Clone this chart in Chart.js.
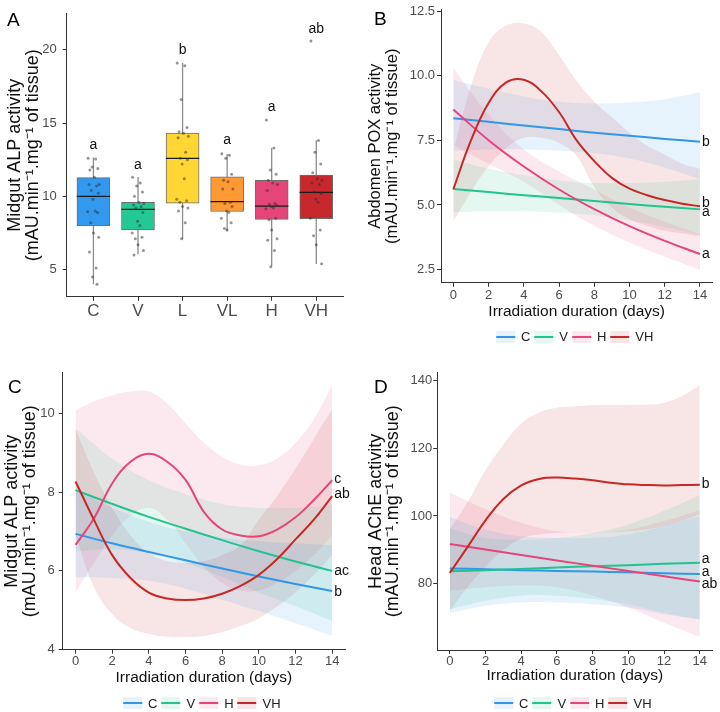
<!DOCTYPE html>
<html>
<head>
<meta charset="UTF-8"/>
<script src="https://cdn.jsdelivr.net/npm/chart.js"></script>
<style>
body{margin:0;background:#fff;}
#wrap{position:relative;width:720px;height:712px;font-family:'Liberation Sans',Arial,sans-serif;}
#wrap canvas{position:absolute;}
.legend{position:absolute;display:flex;align-items:center;transform:translateX(-50%);font-size:13px;color:#222;white-space:nowrap;}
.item{display:flex;align-items:center;margin-right:4px;}
.key{width:19px;height:12px;position:relative;margin-right:6px;}
.key i{position:absolute;left:0;right:0;top:5px;height:2px;}
</style>
</head>
<body>
<div id="wrap">
  <canvas id="cA" width="360" height="356" style="left:0;top:0"></canvas>
  <canvas id="cB" width="360" height="356" style="left:360px;top:0"></canvas>
  <canvas id="cC" width="360" height="356" style="left:0;top:356px"></canvas>
  <canvas id="cD" width="360" height="356" style="left:360px;top:356px"></canvas>
</div>
<script>
// ---- panel A : midgut ALP, boxplots ----
const groupsA = ['C','V','L','VL','H','VH'];
const colorsA = ['#3399EE','#22C995','#FFD633','#FF9933','#E6457A','#C8282C'];
const whiskLoA = [4.0, 6.04, 7.09, 7.64, 5.22, 5.38];
const q1A = [7.98, 7.71, 9.53, 8.96, 8.42, 8.47];
const medA = [10.0, 9.11, 12.58, 9.64, 9.33, 10.27];
const q3A = [11.27, 9.58, 14.31, 11.33, 11.09, 11.44];
const whiskHiA = [12.64, 11.31, 19.09, 12.89, 13.31, 13.82];
const pointsA = [
  [12.6,12.55,12.0,11.9,11.8,11.3,10.8,10.8,10.7,10.4,10.2,9.8,9.0,8.95,8.9,8.2,7.5,7.2,6.2,5.1,4.5,4.0],
  [11.3,10.9,10.7,10.3,10.0,9.6,9.5,9.4,9.3,9.2,8.9,8.3,8.0,7.5,7.2,7.1,6.7,6.3,6.0],
  [19.1,18.9,16.6,14.7,14.4,14.3,14.1,14.0,13.0,12.6,12.5,12.2,11.2,9.8,9.7,9.6,9.3,9.2,9.0,8.2,7.1],
  [12.9,12.8,12.6,11.5,11.1,11.0,10.5,10.5,9.6,9.5,9.3,9.0,8.9,8.5,8.2,7.8,7.7],
  [15.2,13.3,11.8,11.5,11.1,10.9,10.8,10.4,9.5,9.45,9.4,9.3,9.2,9.15,8.5,8.4,7.7,7.1,7.0,6.3,5.2],
  [20.6,13.8,13.0,12.2,11.6,11.2,11.1,10.9,10.8,10.3,10.2,9.8,9.6,8.5,7.7,7.3,6.7,5.4]
];
const lettersA = ['a','a','b','a','a','ab'];
const letterYA = [13.5, 12.15, 20.0, 13.8, 16.05, 21.42];
const ticksA = [5, 10, 15, 20];

// ---- shared for B, C, D ----
const lineGroups = ['C','V','H','VH'];
const lineColors = ['#3396E8','#22C38F','#E6457A','#C62828'];
const bandColors = ['rgba(51,150,232,0.12)','rgba(34,195,143,0.12)','rgba(230,69,122,0.12)','rgba(198,40,40,0.12)'];
const days2 = [0,2,4,6,8,10,12,14];
const days1 = [0,1,2,3,4,5,6,7,8,9,10,11,12,13,14];
const dayTicks = [0,2,4,6,8,10,12,14];

// ---- panel B : abdomen POX ----
const bC = [8.36,8.22,8.08,7.94,7.80,7.68,7.56,7.45];
const bCLo = [7.1,7.15,7.15,7.1,7.0,6.8,6.45,6.0];
const bCHi = [9.84,9.5,9.2,9.0,8.93,8.97,9.1,9.37];
const bV = [5.62,5.5,5.38,5.27,5.15,5.04,4.93,4.83];
const bVLo = [4.72,4.76,4.76,4.7,4.6,4.4,4.15,3.85];
const bVHi = [6.77,6.4,6.15,5.95,5.85,5.85,5.9,6.0];
const bH = [8.7,7.51,6.49,5.6,4.84,4.18,3.61,3.1];
const bHLo = [7.3,6.6,5.9,5.0,4.2,3.55,3.0,2.48];
const bHHi = [10.32,8.5,7.15,6.3,5.6,4.9,4.35,3.86];
const bVH = [5.61,7.5,8.95,9.75,9.85,9.4,8.6,7.5,6.7,6.05,5.63,5.38,5.19,5.05,4.95];
const bVHLo = [4.36,5.5,6.5,7.2,7.6,7.6,7.4,6.9,5.7,4.9,4.45,4.2,4.0,3.9,3.8];
const bVHHi = [7.1,9.6,11.3,11.95,12.03,11.7,10.8,9.8,9.0,8.4,7.8,7.3,6.95,6.6,6.4];
const lettersB = ['b','a','a','b'];
const letterYB = [7.45, 4.72, 3.1, 5.06];
const ticksB = [2.5, 5, 7.5, 10, 12.5];

// ---- panel C : midgut ALP over time ----
const cC = [6.94,6.7,6.48,6.27,6.06,5.86,5.67,5.49];
const cCLo = [5.84,5.82,5.75,5.55,5.27,4.98,4.67,4.35];
const cCHi = [8.05,7.6,7.25,7.0,6.85,6.75,6.7,6.65];
const cV = [8.05,7.7,7.37,7.07,6.78,6.5,6.24,6.0];
const cVLo = [6.5,6.55,6.45,6.2,5.85,5.45,5.1,4.73];
const cVHi = [9.62,8.85,8.3,7.95,7.7,7.6,7.6,7.65];
const cH = [6.66,7.33,8.22,8.77,8.97,8.77,8.31,7.5,7.05,6.9,6.88,7.05,7.36,7.8,8.3];
const cHLo = [5.45,6.2,6.9,7.4,7.6,7.3,6.7,6.1,5.7,5.5,5.5,5.7,6.0,6.4,6.9];
const cHHi = [10.08,10.3,10.45,10.55,10.55,10.25,9.75,9.25,8.9,8.7,8.68,8.85,9.25,9.85,10.71];
const cVH = [8.27,7.3,6.4,5.82,5.45,5.3,5.26,5.3,5.42,5.62,5.9,6.3,6.8,7.3,7.9];
const cVHLo = [6.9,5.6,4.9,4.55,4.4,4.33,4.32,4.35,4.45,4.6,4.8,5.1,5.45,5.9,6.4];
const cVHHi = [9.6,8.5,7.6,6.9,6.45,6.25,6.2,6.25,6.4,6.65,7.3,7.9,8.6,9.35,10.1];
const lettersC = ['b','ac','c','ab'];
const letterYC = [5.47, 6.0, 8.32, 7.94];
const ticksC = [4, 6, 8, 10];

// ---- panel D : head AChE ----
const dC = [84.5,84.3,84.0,83.8,83.6,83.4,83.1,82.9];
const dCLo = [71.5,73.5,74.5,74.5,74,73,71,69.5];
const dCHi = [99.7,96,94,93.5,93.5,94.5,97,100];
const dV = [83.7,84.0,84.4,84.8,85.2,85.5,85.9,86.2];
const dVLo = [72.5,75,76.5,76.5,75.5,74,71.5,69.5];
const dVHi = [96.3,93.5,93,93.5,95,97.5,101.5,106.1];
const dH = [91.7,90.1,88.5,86.9,85.3,83.8,82.2,80.7];
const dHLo = [78,79,79.5,79,76.5,73,68.5,64.3];
const dHHi = [107,102,98,95.5,95,96,98.5,101.7];
const dVH = [83.2,90.9,98.7,105.0,109.0,110.9,111.3,111.0,110.5,109.8,109.3,109.1,109.0,109.1,109.2];
const dVHLo = [72,79,85,90,93.3,94.5,95,95,95,95.2,95.5,96,97,98.5,100.5];
const dVHHi = [96,104,113.5,121,127.2,130.5,131.9,132.3,132.6,132.7,132.7,132.8,133.3,135.3,138.5];
const lettersD = ['a','a','ab','b'];
const letterYD = [83.5, 87.2, 79.9, 109.3];
const ticksD = [80, 100, 120, 140];

const FONT = "'Liberation Sans', Arial, sans-serif";
Chart.defaults.font.family = FONT;
Chart.defaults.animation = false;
Chart.defaults.plugins.legend.display = false;
Chart.defaults.plugins.tooltip.enabled = false;

const AXIS = '#333';
const TICKTXT = '#4d4d4d';
const W = 360, H = 356;

function setTicks(vals) { return s => { s.ticks = vals.map(v => ({value: v})); }; }

function yAxis(g, min, max, ticks, fmt, title) {
  return {
    type: 'linear', min: min, max: max,
    afterFit: s => { s.width = g.left; },
    afterBuildTicks: setTicks(ticks),
    border: {display: true, color: AXIS, width: 1},
    grid: {display: true, drawOnChartArea: false, drawTicks: true, tickLength: 4, color: AXIS},
    ticks: {font: {size: 13}, color: TICKTXT, padding: g.ypad, callback: fmt},
    title: {display: true, text: title, color: '#111', font: {size: g.tfont, lineHeight: g.tline / g.tfont}, padding: {top: g.tpad, bottom: 0}}
  };
}

function xAxisDays(g) {
  return {
    type: 'linear', min: -0.7, max: 14.7,
    afterFit: s => { s.height = g.xh; },
    afterBuildTicks: setTicks(dayTicks),
    border: {display: true, color: AXIS, width: 1},
    grid: {display: true, drawOnChartArea: false, drawTicks: true, tickLength: 4, color: AXIS},
    ticks: {font: {size: 13}, color: TICKTXT, padding: g.xpad},
    title: {display: true, text: 'Irradiation duration (days)', color: '#111', font: {size: 15.5, lineHeight: 18 / 15.5}, padding: {top: 0, bottom: 0}}
  };
}

function layoutOf(g) {
  return {padding: {left: 0, top: g.top, right: W - g.right, bottom: H - g.bottom - g.xh}};
}

// panel letter + significance letters
function textPlugin(letter, lpos, letters, ly, mode) {
  return {
    id: 'txt' + letter,
    afterDatasetsDraw(chart) {
      const ctx = chart.ctx, xs = chart.scales.x, ys = chart.scales.y;
      ctx.save();
      ctx.fillStyle = '#000';
      ctx.textBaseline = 'middle';
      ctx.textAlign = 'left';
      ctx.font = '19px ' + FONT;
      ctx.fillText(letter, lpos[0], lpos[1]);
      ctx.font = '14px ' + FONT;
      ctx.fillStyle = '#111';
      letters.forEach((t, i) => {
        if (mode === 'box') {
          ctx.textAlign = 'center';
          ctx.fillText(t, xs.getPixelForValue(i + 1), ys.getPixelForValue(ly[i]));
        } else {
          ctx.textAlign = 'left';
          ctx.fillText(t, xs.getPixelForValue(14) + 2, ys.getPixelForValue(ly[i]));
        }
      });
      ctx.restore();
    }
  };
}

// ---------- panel A ----------
const jit = [-0.12,0.05,-0.03,0.1,-0.08,0.02,0.13,-0.1,0.07,-0.05,0.11,-0.01,0.04,-0.13,0.09,-0.06,0.0,0.12,-0.09,0.06,-0.02,0.08];
const geoA = {left: 66.7, top: 7.3, right: 343, bottom: 296.7, xh: 59.3, ypad: 6, tfont: 18, tline: 18, tpad: 6, xpad: 0};

const whiskData = [], medData = [], ptData = [];
groupsA.forEach((g, i) => {
  whiskData.push({x: i + 1, y: whiskLoA[i]}, {x: i + 1, y: whiskHiA[i]}, {x: i + 1, y: null});
  medData.push({x: i + 0.625, y: medA[i]}, {x: i + 1.375, y: medA[i]}, {x: i + 1.4, y: null});
  pointsA[i].forEach((v, k) => ptData.push({x: i + 1 + jit[k % jit.length], y: v}));
});

new Chart(document.getElementById('cA'), {
  type: 'bar',
  data: {
    datasets: [
      {type: 'scatter', data: ptData, pointRadius: 1.5, pointBackgroundColor: 'rgba(45,45,45,0.5)', pointBorderWidth: 0, order: 0},
      {type: 'line', data: medData, borderColor: '#1a1a1a', borderWidth: 1.3, pointRadius: 0, spanGaps: false, order: 1},
      {type: 'bar', data: groupsA.map((g, i) => ({x: i + 1, y: [q1A[i], q3A[i]]})),
        backgroundColor: colorsA, borderColor: '#6e6e6e', borderWidth: 1, borderSkipped: false, barThickness: 33, order: 2},
      {type: 'line', data: whiskData, borderColor: '#8c8c8c', borderWidth: 1.3, pointRadius: 0, spanGaps: false, order: 3}
    ]
  },
  options: {
    responsive: false,
    layout: layoutOf(geoA),
    scales: {
      x: {
        type: 'linear', min: 0.4, max: 6.6, offset: false,
        afterFit: s => { s.height = geoA.xh; },
        afterBuildTicks: setTicks([1, 2, 3, 4, 5, 6]),
        border: {display: true, color: AXIS, width: 1},
        grid: {display: true, offset: false, drawOnChartArea: false, drawTicks: true, tickLength: 4, color: AXIS},
        ticks: {font: {size: 17}, color: TICKTXT, padding: 0, callback: v => groupsA[v - 1]}
      },
      y: yAxis(geoA, 3.15, 22.45, ticksA, v => v, ['Midgut ALP activity', '(mAU.min\u207B\u00B9.mg\u207B\u00B9 of tissue)'])
    }
  },
  plugins: [textPlugin('A', [7, 21], lettersA, letterYA, 'box')]
});

// ---------- line panels ----------
function band(xs, lo, hi, color, ord) {
  return [
    {data: xs.map((x, i) => ({x: x, y: lo[i]})), borderWidth: 0, pointRadius: 0, fill: false, tension: 0.4, order: ord},
    {data: xs.map((x, i) => ({x: x, y: hi[i]})), borderWidth: 0, pointRadius: 0, fill: '-1', backgroundColor: color, tension: 0.4, order: ord}
  ];
}
function curve(xs, ys, color, ord) {
  return {data: xs.map((x, i) => ({x: x, y: ys[i]})), borderColor: color, borderWidth: 2, pointRadius: 0, fill: false, tension: 0.4, order: ord};
}

function linePanel(id, g, sets, ymin, ymax, yt, fmt, title, letter, lpos, letters, ly) {
  const ds = [];
  sets.forEach((s, k) => ds.push(...band(s.xs, s.lo, s.hi, bandColors[k], 10 + k)));
  sets.forEach((s, k) => ds.push(curve(s.xs, s.mid, lineColors[k], 4 - k)));
  new Chart(document.getElementById(id), {
    type: 'line',
    data: {datasets: ds},
    options: {
      responsive: false,
      layout: layoutOf(g),
      scales: {x: xAxisDays(g), y: yAxis(g, ymin, ymax, yt, fmt, title)}
    },
    plugins: [textPlugin(letter, lpos, letters, ly, 'end')]
  });
}

function legend(px, py, g) {
  const el = document.createElement('div');
  el.className = 'legend';
  el.style.left = (px + (g.left + g.right) / 2) + 'px';
  el.style.top = (py + g.legY - 7) + 'px';
  lineGroups.forEach((name, k) => {
    const it = document.createElement('div');
    it.className = 'item';
    it.innerHTML = '<div class="key" style="background:' + bandColors[k] + '"><i style="background:' + lineColors[k] + '"></i></div><span>' + name + '</span>';
    el.appendChild(it);
  });
  document.getElementById('wrap').appendChild(el);
}

const geoB = {left: 81, top: 5, right: 352.3, bottom: 282.7, xh: 38, ypad: 2, tfont: 16.5, tline: 17, tpad: 6.5, xpad: 1, legY: 336};
linePanel('cB', geoB, [
  {xs: days2, mid: bC, lo: bCLo, hi: bCHi},
  {xs: days2, mid: bV, lo: bVLo, hi: bVHi},
  {xs: days2, mid: bH, lo: bHLo, hi: bHHi},
  {xs: days1, mid: bVH, lo: bVHLo, hi: bVHHi}
], 1.99, 12.56, ticksB, v => v.toFixed(1), ['Abdomen POX activity', '(mAU.min\u207B\u00B9.mg\u207B\u00B9 of tissue)'],
  'B', [14, 20], lettersB, letterYB);
legend(360, 0, geoB);

const geoC = {left: 62.7, top: 16.7, right: 345, bottom: 293.7, xh: 37, ypad: 4, tfont: 18, tline: 18, tpad: 2.7, xpad: 0, legY: 346.5};
linePanel('cC', geoC, [
  {xs: days2, mid: cC, lo: cCLo, hi: cCHi},
  {xs: days2, mid: cV, lo: cVLo, hi: cVHi},
  {xs: days1, mid: cH, lo: cHLo, hi: cHHi},
  {xs: days1, mid: cVH, lo: cVHLo, hi: cVHHi}
], 4.0, 11.03, ticksC, v => v, ['Midgut ALP activity', '(mAU.min\u207B\u00B9.mg\u207B\u00B9 of tissue)'],
  'C', [8, 32], lettersC, letterYC);
legend(0, 356, geoC);

const geoD = {left: 77.3, top: 16.7, right: 352.3, bottom: 294, xh: 35, ypad: 1, tfont: 18, tline: 17.5, tpad: 7, xpad: 0, legY: 346.5};
linePanel('cD', geoD, [
  {xs: days2, mid: dC, lo: dCLo, hi: dCHi},
  {xs: days2, mid: dV, lo: dVLo, hi: dVHi},
  {xs: days2, mid: dH, lo: dHLo, hi: dHHi},
  {xs: days1, mid: dVH, lo: dVHLo, hi: dVHHi}
], 60.5, 142.2, ticksD, v => v, ['Head AChE activity', '(mAU.min\u207B\u00B9.mg\u207B\u00B9 of tissue)'],
  'D', [14, 32], lettersD, letterYD);
legend(360, 356, geoD);
</script>
</body>
</html>
